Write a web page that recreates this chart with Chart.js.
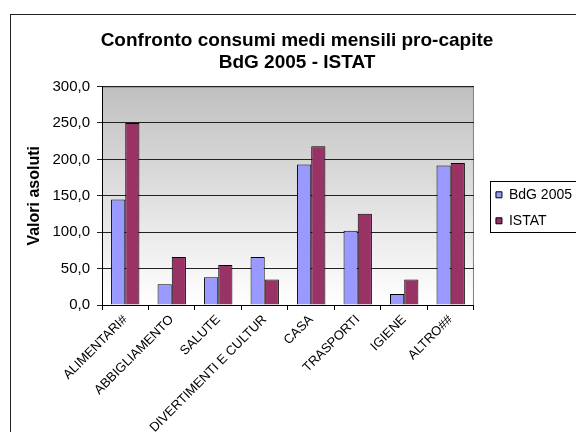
<!DOCTYPE html>
<html>
<head>
<meta charset="utf-8">
<script src="https://cdn.jsdelivr.net/npm/chart.js@4"></script>
<style>
  html, body { margin: 0; padding: 0; background: #fff; overflow: hidden; width: 576px; height: 432px; }
  #frame { position: absolute; left: 10px; top: 14px; width: 572px; height: 430px; border: 1px solid #222; }
  #consumiChart { display: block; }
</style>
</head>
<body>
<div id="frame"><canvas id="consumiChart" width="572" height="430"></canvas></div>
<script>
"use strict";

// Categorie di spesa e valori medi mensili pro-capite
const categories = ['ALIMENTARI#', 'ABBIGLIAMENTO', 'SALUTE', 'DIVERTIMENTI E CULTUR', 'CASA', 'TRASPORTI', 'IGIENE', 'ALTRO##'];
const bdg2005 = [145, 28.5, 38, 66, 193, 102, 15, 191.5];
const istat = [250, 66, 55, 35, 218, 125.5, 35, 195];
const yTicks = [0, 50, 100, 150, 200, 250, 300];

Chart.defaults.font.family = "'Liberation Sans', Arial, sans-serif";
Chart.defaults.color = '#000';

// Plot area gradient (grey -> white) with a thin frame
const plotBackground = {
  id: 'plotBackground',
  beforeDraw: (chart) => {
    const { ctx, chartArea: a } = chart;
    const grad = ctx.createLinearGradient(0, a.top, 0, a.bottom);
    grad.addColorStop(0, '#c0c0c0');
    grad.addColorStop(1, '#ffffff');
    ctx.save();
    ctx.fillStyle = grad;
    ctx.fillRect(a.left, a.top, a.right - a.left, a.bottom - a.top);
    ctx.strokeStyle = '#808080';
    ctx.lineWidth = 1;
    ctx.strokeRect(a.left + 0.5, a.top + 0.5, a.right - a.left - 1, a.bottom - a.top);
    ctx.restore();
  }
};

// Move the legend a bit and draw its box
const legendBox = {
  id: 'legendBox',
  afterLayout: (chart) => {
    const lg = chart.legend;
    lg.left += 10; lg.right += 10;
    lg.top += 12; lg.bottom += 12;
  },
  afterDraw: (chart) => {
    const { ctx } = chart;
    const lg = chart.legend;
    const pad = lg.options.labels.padding;
    const yStart = (lg.top + pad + lg.bottom - lg.columnSizes[0].height) / 2;
    ctx.save();
    ctx.strokeStyle = '#000';
    ctx.lineWidth = 1;
    ctx.strokeRect(Math.round(lg.left + pad - 6) + 0.5, Math.round(yStart - 7) + 0.5, 200, 51);
    ctx.restore();
  }
};

const ctxConsumi = document.getElementById('consumiChart');
new Chart(ctxConsumi, {
  type: 'bar',
  data: {
    labels: categories,
    datasets: [{
      label: 'BdG 2005',
      data: bdg2005,
      backgroundColor: '#9999ff',
      borderColor: '#000',
      borderWidth: 1,
      categoryPercentage: 0.61,
      barPercentage: 1
    }, {
      label: 'ISTAT',
      data: istat,
      backgroundColor: '#993366',
      borderColor: '#000',
      borderWidth: 1,
      categoryPercentage: 0.61,
      barPercentage: 1
    }]
  },
  options: {
    responsive: false,
    animation: false,
    layout: { padding: { left: 11, right: 11 } },
    plugins: {
      tooltip: { enabled: false },
      title: {
        display: true,
        text: ['Confronto consumi medi mensili pro-capite', 'BdG 2005 - ISTAT'],
        color: '#000',
        font: { size: 19, weight: 'bold', lineHeight: 1.2 },
        padding: { top: 14, bottom: 12 }
      },
      legend: {
        position: 'right',
        fullSize: false,
        labels: { boxWidth: 6, boxHeight: 6, padding: 12, color: '#000', font: { size: 14 } }
      }
    },
    scales: {
      x: {
        grid: { drawOnChartArea: false, drawTicks: true, tickLength: 5, color: '#000' },
        border: { color: '#000' },
        ticks: { color: '#000', font: { size: 13 }, minRotation: 45, maxRotation: 45, autoSkip: false, padding: 2 },
        afterFit: (scale) => { scale.height = 140; }
      },
      y: {
        min: 0,
        max: 300,
        afterBuildTicks: (scale) => { scale.ticks = yTicks.map(v => ({ value: v })); },
        ticks: { color: '#000', font: { size: 15 }, padding: 7, callback: (v) => v.toFixed(1).replace('.', ',') },
        grid: { color: '#222', tickLength: 5 },
        border: { color: '#000' },
        title: {
          display: true,
          text: 'Valori asoluti',
          color: '#000',
          font: { size: 16, weight: 'bold' },
          padding: { top: 3, bottom: 0 }
        },
        afterFit: (scale) => { scale.width = 80; }
      }
    }
  },
  plugins: [plotBackground, legendBox]
});
</script>
</body>
</html>
